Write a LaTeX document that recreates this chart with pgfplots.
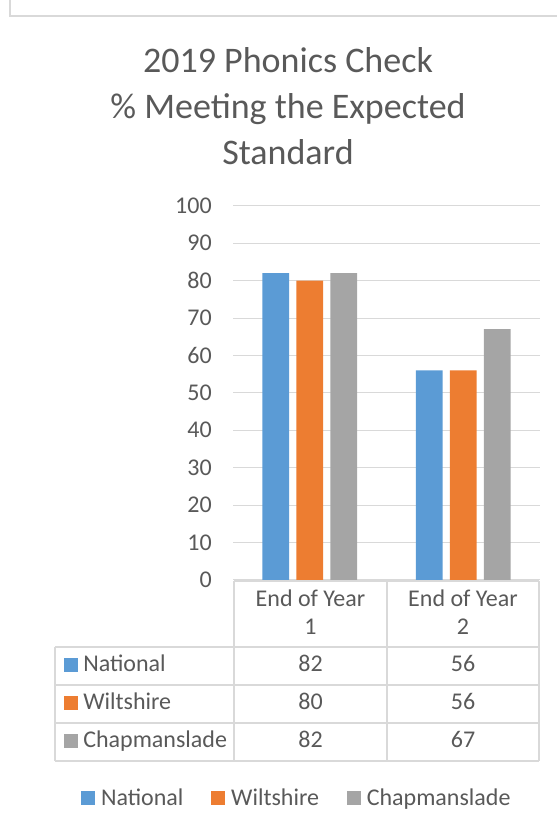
\documentclass[border=0pt]{standalone}
\usepackage{fontspec}
\setmainfont{Carlito}
\usepackage{pgfplots}
\pgfplotsset{compat=1.18}
\definecolor{natc}{HTML}{5B9BD5}
\definecolor{wilc}{HTML}{ED7D31}
\definecolor{chac}{HTML}{A5A5A5}
\definecolor{txt}{HTML}{595959}
\definecolor{grd}{HTML}{D9D9D9}
\newcommand{\fs}{\fontsize{18}{21.6}\selectfont}
\begin{document}
\begin{tikzpicture}[x=0.75pt,y=0.75pt]
\useasboundingbox (0,0) rectangle (557,828);
\draw[grd, line width=1.5pt] (10,828) -- (10,812.2) -- (557,812.2);
\node[text=txt, align=center, font=\fontsize{27}{34.5}\selectfont] at (288,722) {2019 Phonics Check\\\% Meeting the Expected\\Standard};
\begin{axis}[at={(174.75pt,186pt)}, anchor=south west, scale only axis,
  width=230.25pt, height=280.7pt,
  xmin=0.5, xmax=2.5, ymin=0, ymax=100, ytick={0,10,...,100}, xtick=\empty,
  ymajorgrids, grid style={grd, line width=0.75pt},
  axis line style={draw=none}, major tick length=0pt,
  ybar=5.6pt, bar width=19.9pt,
  /pgf/number format/assume math mode=true,
  yticklabel style={font=\fs, text=txt, inner sep=0pt, xshift=-15.75pt},
  legend style={at={(-0.495,-0.5832)}, anchor=west, draw=none, fill=none,
    legend columns=3, font=\fs, text=txt, inner sep=0pt,
    /tikz/every odd column/.append style={column sep=4.3pt},
    /tikz/every even column/.append style={column sep=21pt},
    nodes={inner sep=0pt}},
  legend cell align=left,
  legend image code/.code={\fill[#1] (0pt,-5.25pt) rectangle (10.5pt,5.25pt);},
]
\addplot[fill=natc, draw=none] coordinates {(1,82) (2,56)};
\addplot[fill=wilc, draw=none] coordinates {(1,80) (2,56)};
\addplot[fill=chac, draw=none] coordinates {(1,82) (2,67)};
\legend{National, Wiltshire, Chapmanslade}
\end{axis}
% data table
\begin{scope}[grd, line width=1pt]
\draw (234,247) -- (539,247);
\foreach \yy in {181,143,105,67} \draw (55,\yy) -- (539,\yy);
\foreach \xx in {234,387,539} \draw (\xx,247) -- (\xx,67);
\draw (55,181) -- (55,67);
\end{scope}
\begin{scope}[every node/.style={text=txt, font=\fs, inner sep=0pt}]
\node[anchor=base] at (310.5,221.3) {End of Year};
\node[anchor=base] at (310.5,193.3) {1};
\node[anchor=base] at (463,221.3) {End of Year};
\node[anchor=base] at (463,193.3) {2};
\fill[natc] (64,156) rectangle (78,170);
\fill[wilc] (64,118) rectangle (78,132);
\fill[chac] (64,80) rectangle (78,94);
\node[anchor=base west] at (83,156.3) {National};
\node[anchor=base west] at (83,118.3) {Wiltshire};
\node[anchor=base west] at (83,80.3) {Chapmanslade};
\node[anchor=base] at (310.5,156.3) {82};
\node[anchor=base] at (463,156.3) {56};
\node[anchor=base] at (310.5,118.3) {80};
\node[anchor=base] at (463,118.3) {56};
\node[anchor=base] at (310.5,80.3) {82};
\node[anchor=base] at (463,80.3) {67};
\end{scope}
\end{tikzpicture}
\end{document}
